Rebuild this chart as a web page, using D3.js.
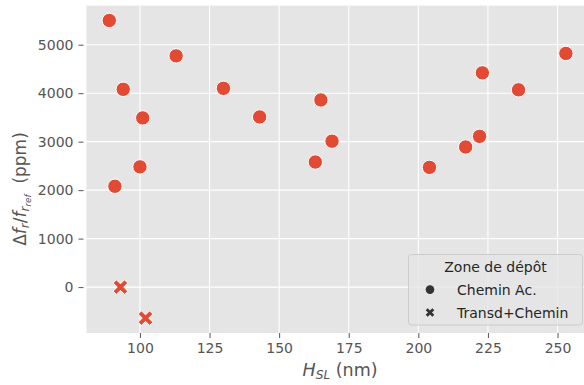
<!DOCTYPE html>
<html>
<head>
<meta charset="utf-8">
<script src="https://cdn.jsdelivr.net/npm/d3@7"></script>
<style>
  html, body { margin: 0; padding: 0; background: #ffffff; }
  svg { display: block; }
  text { font-family: "DejaVu Sans", sans-serif; }
</style>
</head>
<body>
<svg id="chart" width="584" height="385"></svg>
<script>
// ---- data ----
const hslChemin = [89, 91, 94, 100, 101, 113, 130, 143, 163, 165, 169, 204, 217, 222, 223, 236, 253];
const dfChemin  = [5500, 2080, 4080, 2480, 3490, 4770, 4100, 3510, 2580, 3860, 3010, 2470, 2890, 3110, 4420, 4070, 4820];
const hslTransd = [93, 102];
const dfTransd  = [0, -640];
const xTicks = [100, 125, 150, 175, 200, 225, 250];
const yTicks = [0, 1000, 2000, 3000, 4000, 5000];
const legendTitle = "Zone de dépôt";
const legendLabels = ["Chemin Ac.", "Transd+Chemin"];

// ---- layout ----
const svg = d3.select("#chart");
const pL = 86.5, pR = 588.7, pT = 5.6, pB = 333;

const allX = hslChemin.concat(hslTransd), allY = dfChemin.concat(dfTransd);
const padX = (d3.max(allX) - d3.min(allX)) * 0.05;
const padY = (d3.max(allY) - d3.min(allY)) * 0.05;
const x = d3.scaleLinear().domain([d3.min(allX) - padX, d3.max(allX) + padX]).range([pL, pR]);
const y = d3.scaleLinear().domain([d3.min(allY) - padY, d3.max(allY) + padY]).range([pB, pT]);

const red = "#E24A33", tickCol = "#555555";

// background
svg.append("rect").attr("x", pL).attr("y", pT)
  .attr("width", pR - pL).attr("height", pB - pT).attr("fill", "#E5E5E5");

// grid
const g = svg.append("g");
xTicks.forEach(t => g.append("line").attr("x1", x(t)).attr("x2", x(t)).attr("y1", pT).attr("y2", pB)
  .attr("stroke", "#ffffff").attr("stroke-width", 1.1));
yTicks.forEach(t => g.append("line").attr("x1", pL).attr("x2", pR).attr("y1", y(t)).attr("y2", y(t))
  .attr("stroke", "#ffffff").attr("stroke-width", 1.1));

// axes
const xAxis = d3.axisBottom(x).tickValues(xTicks).tickSize(5).tickPadding(5.5).tickFormat(d3.format("d"));
const yAxis = d3.axisLeft(y).tickValues(yTicks).tickSize(5).tickPadding(5).tickFormat(d3.format("d"));
const gx = svg.append("g").attr("transform", `translate(0,${pB})`).call(xAxis);
const gy = svg.append("g").attr("transform", `translate(${pL - 3},0)`).call(yAxis);
[gx, gy].forEach(a => {
  a.select(".domain").remove();
  a.selectAll(".tick line").attr("stroke", tickCol).attr("stroke-width", 1);
  a.selectAll(".tick text").attr("fill", tickCol).attr("font-size", 14).attr("font-family", "DejaVu Sans");
});

// axis labels
const xl = svg.append("text").attr("x", 340).attr("y", 376).attr("text-anchor", "middle")
  .attr("fill", tickCol).attr("font-size", 17.5);
xl.append("tspan").attr("font-style", "italic").text("H");
xl.append("tspan").attr("font-style", "italic").attr("font-size", 12.2).attr("dy", 3).text("SL");
xl.append("tspan").attr("dy", -3).text("\u00A0(nm)");

const yl = svg.append("text").attr("transform", "translate(25.5,189) rotate(-90)")
  .attr("text-anchor", "middle").attr("fill", tickCol).attr("font-size", 17);
yl.append("tspan").text("Δ");
yl.append("tspan").attr("font-style", "italic").text("f");
yl.append("tspan").attr("font-style", "italic").attr("font-size", 12).attr("dy", 3).text("r");
yl.append("tspan").attr("dy", -3).text("/");
yl.append("tspan").attr("font-style", "italic").text("f");
yl.append("tspan").attr("font-style", "italic").attr("font-size", 12).attr("dy", 3).text("r");
yl.append("tspan").attr("font-style", "italic").attr("font-size", 8.8).attr("dy", 2).text("ref");
yl.append("tspan").attr("dy", -5).text("\u00A0\u00A0(ppm)");

// X marker path
function xPath(h, w) {
  const L = h * Math.SQRT2 - w;
  const p = [[w,L],[w,w],[L,w],[L,-w],[w,-w],[w,-L],[-w,-L],[-w,-w],[-L,-w],[-L,w],[-w,w],[-w,L]];
  const c = Math.SQRT1_2;
  return "M" + p.map(([a,b]) => [(a - b) * c, (a + b) * c].map(v => v.toFixed(2)).join(",")).join("L") + "Z";
}

// points
const pts = svg.append("g");
pts.selectAll("circle.c").data(hslChemin.map((h, i) => [h, dfChemin[i]])).enter()
  .append("circle").attr("cx", d => x(d[0])).attr("cy", d => y(d[1])).attr("r", 7.2)
  .attr("fill", red).attr("stroke", "#ffffff").attr("stroke-width", 1);
pts.selectAll("path.x").data(hslTransd.map((h, i) => [h, dfTransd[i]])).enter()
  .append("path").attr("d", xPath(7.3, 2.3))
  .attr("transform", d => `translate(${x(d[0])},${y(d[1])})`)
  .attr("fill", red).attr("stroke", "#ffffff").attr("stroke-width", 1);

// legend
const lg = svg.append("g");
lg.append("rect").attr("x", 408.5).attr("y", 254.5).attr("width", 174).attr("height", 70.5)
  .attr("rx", 3).attr("fill", "#E5E5E5").attr("fill-opacity", 0.8)
  .attr("stroke", "#CCCCCC").attr("stroke-width", 1);
lg.append("text").attr("x", 495.5).attr("y", 272).attr("text-anchor", "middle")
  .attr("font-size", 14).attr("fill", "#262626").text(legendTitle);
lg.append("circle").attr("cx", 430).attr("cy", 289.6).attr("r", 4.3).attr("fill", "#333333");
lg.append("path").attr("d", xPath(4.3, 1.4)).attr("transform", "translate(430,312.5)").attr("fill", "#333333");
legendLabels.forEach((t, i) => lg.append("text").attr("x", 457).attr("y", 294.6 + i * 22.9)
  .attr("font-size", 14).attr("fill", "#262626").text(t));
</script>
</body>
</html>
